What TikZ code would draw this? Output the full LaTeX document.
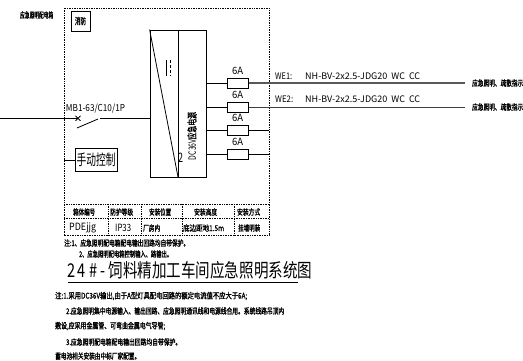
\documentclass[tikz,border=0pt]{standalone}
\usepackage{fontspec}
\setmainfont[AutoFakeBold=1.5]{Noto Sans CJK SC}
\usepackage{graphicx}
\usetikzlibrary{shapes,arrows,positioning}
\tikzstyle{panel} = [draw, dash pattern=on 1pt off 0.7pt, line width=0.9pt]
\tikzstyle{wbox} = [draw, line width=0.8pt, inner sep=0pt, fill=white]
\tikzstyle{fuse} = [draw, line width=0.7pt, inner sep=0pt, minimum width=21pt, minimum height=10pt, fill=white]
\tikzstyle{line} = [draw, line width=0.8pt]
\tikzstyle{txt} = [inner sep=0pt, font=\fontsize{9}{9}\selectfont]
\tikzstyle{btxt} = [inner sep=0pt, anchor=west, font=\fontsize{8}{8}\selectfont\bfseries]
\newcommand{\fitw}[2]{\resizebox{#1pt}{\height}{#2}}
\begin{document}
\begin{tikzpicture}[x=1pt,y=-1pt]
	\useasboundingbox (0,0) rectangle (523,360);
	% panel outline and table
	\path [panel] (64,8) rectangle (269,235);
	\path [panel] (64,204) -- (269,204);
	\path [panel] (64,218) -- (269,218);
	\path [panel] (108,204) -- (108,235);
	\path [panel] (141,204) -- (141,235);
	\path [panel] (182,204) -- (182,235);
	\path [panel] (234,204) -- (234,235);

	\node [btxt] (boxname) at (20,15) {\fitw{33}{应急照明配电箱}};
	\node [wbox, minimum width=19pt, minimum height=20pt, font=\fontsize{9}{9}\selectfont\bfseries] (xf) at (80.5,21) {\fitw{11}{消防}};

	% power unit
	\node [wbox, minimum width=56pt, minimum height=147pt, fill=none] (unit) at (178,103.5) {};
	\coordinate (divt) at (178,30);
	\coordinate (divb) at (178,177);
	\path [line] (divt) -- (divb);
	\path [line] (unit.north west) -- (divb);
	\coordinate (mark1a) at (166,60);
	\coordinate (mark1b) at (166,76);
	\coordinate (mark2a) at (170,60);
	\coordinate (mark2b) at (170,76);
	\path [line] (mark1a) -- (mark1b);
	\path [line, densely dashed] (mark2a) -- (mark2b);
	\node [txt, font=\fontsize{13}{13}\selectfont] (two) at (180.5,158) {\fitw{5}{2}};
	\node [txt, rotate=90, font=\fontsize{10}{10}\selectfont] (dc) at (192,136) {\fitw{48}{DC36V{\bfseries 应急电源}}};

	% incoming side
	\coordinate (in) at (0,118);
	\coordinate (brk) at (78,118);
	\coordinate (blade) at (77,128);
	\coordinate (bladeb) at (98,119);
	\coordinate (bladee) at (100,118);
	\coordinate (unitin) at (150,118);
	\path [line] (in) -- (brk);
	\path [line] (blade) -- (bladeb);
	\path [line] (bladee) -- (unitin);
	\node [txt, font=\fontsize{8}{8}\selectfont\bfseries] (x) at (78,118.5) {×};
	\node [txt, font=\fontsize{9.5}{9.5}\selectfont] (mb) at (95.5,108.5) {\fitw{59}{MB1-63/C10/1P}};

	\node [wbox, minimum width=42pt, minimum height=23pt, font=\fontsize{15}{15}\selectfont] (manual) at (96,160) {\fitw{39}{手动控制}};
	\coordinate (manualin) at (64,160);
	\path [line] (manualin) -- (manual);

	% outgoing
	\foreach \n/\yy in {1/83,2/107,3/130,4/154} {
		\node [fuse] (fu\n) at (237.5,\yy) {};
		\coordinate (bus\n) at (206,\yy);
		\path [line] (bus\n) -- (fu\n);
		\node [txt, above=3pt of fu\n, font=\fontsize{10}{10}\selectfont] (amp\n) {\fitw{11}{6A}};
	}
	\coordinate (end1) at (465,83);
	\coordinate (end2) at (465,107);
	\coordinate (end3) at (269,130);
	\coordinate (end4) at (269,154);
	\path [draw, line width=1.3pt, black!65] (fu1) -- (end1);
	\path [draw, line width=0.9pt, black!75] (fu2) -- (end2);
	\path [line] (fu3) -- (end3);
	\path [line] (fu4) -- (end4);
	\node [fuse] (fu1t) at (237.5,83) {};
	\node [fuse] (fu2t) at (237.5,107) {};

	\node [txt, anchor=west] (we1) at (275,76) {\fitw{17}{WE1:}};
	\node [txt, anchor=west] (cb1) at (305,76) {\fitw{115}{NH-BV-2x2.5-JDG20\ \ WC\ \ CC}};
	\node [txt, anchor=west] (we2) at (275,99.5) {\fitw{18}{WE2:}};
	\node [txt, anchor=west] (cb2) at (305,99.5) {\fitw{115}{NH-BV-2x2.5-JDG20\ \ WC\ \ CC}};
	\node [btxt] (load1) at (472,83) {\fitw{51}{应急照明、疏散指示}};
	\node [btxt] (load2) at (472,107) {\fitw{51}{应急照明、疏散指示}};

	% table text
	\node [btxt] (h1) at (73,212) {\fitw{22}{箱体编号}};
	\node [btxt] (h2) at (110,212) {\fitw{23}{防护等级}};
	\node [btxt] (h3) at (149,212) {\fitw{22}{安装位置}};
	\node [btxt] (h4) at (194,212) {\fitw{23}{安装高度}};
	\node [btxt] (h5) at (237,212) {\fitw{23}{安装方式}};
	\node [txt, anchor=west, font=\fontsize{10}{10}\selectfont] (v1) at (69,228) {\fitw{27}{PDEjjg}};
	\node [txt, anchor=west, font=\fontsize{10}{10}\selectfont] (v2) at (115,228) {\fitw{16}{IP33}};
	\node [btxt] (v3) at (143,228) {\fitw{17}{厂房内}};
	\node [btxt] (v4) at (183,228) {\fitw{41}{底边距地1.5m}};
	\node [btxt] (v5) at (238,228) {\fitw{22}{挂墙明装}};

	% notes
	\node [btxt] (n1) at (64,243) {\fitw{125}{注:1、应急照明配电箱配电输出回路均自带保护。}};
	\node [btxt] (n2) at (79,254) {\fitw{93}{2、应急照明配电箱控制输入、路输出。}};
	\node [txt, anchor=west, font=\fontsize{19}{19}\selectfont] (title) at (67,270) {\fitw{245}{2\,4\ \#\ -\ 饲料精加工车间应急照明系统图}};
	\coordinate (ula) at (68,282);
	\coordinate (ulb) at (298,282);
	\path [line] (ula) -- (ulb);
	\node [btxt] (t1) at (55,296) {\fitw{192}{注:1.采用DC36V输出,由于A型灯具配电回路的额定电流值不应大于6A;}};
	\node [btxt] (t2) at (66,311) {\fitw{218}{2.应急照明集中电源输入、输出回路、应急照明通讯线和电源线合用。系统线路吊顶内}};
	\node [btxt] (t3) at (55,326) {\fitw{110}{敷设,应采用金属管、可弯曲金属电气导管;}};
	\node [btxt] (t4) at (66,342) {\fitw{115}{3.应急照明配电箱配电输出回路均自带保护。}};
	\node [btxt] (t5) at (55,356) {\fitw{85}{蓄电池相关安装由中标厂家配置。}};
\end{tikzpicture}
\end{document}
